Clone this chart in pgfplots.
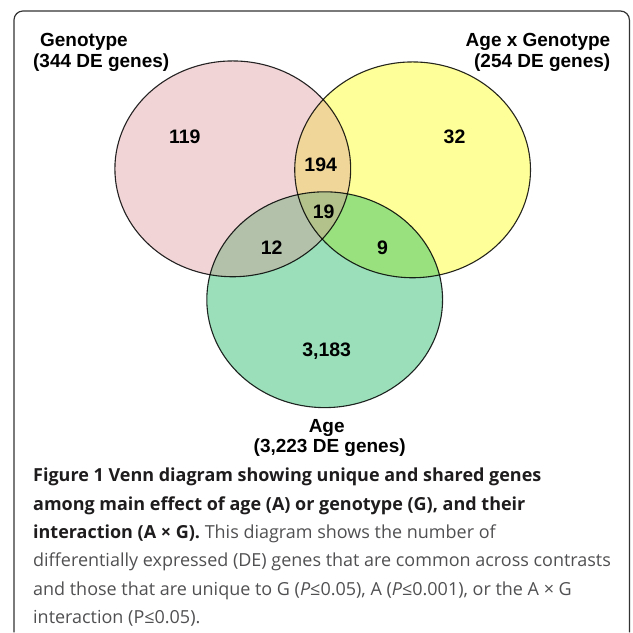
\documentclass[border=0pt]{standalone}
\usepackage{pgfplots}
\pgfplotsset{compat=1.18}
\usepackage{fontspec}
\setmainfont{Liberation Sans}
\newfontfamily\capfont{Open Sans}
\definecolor{cPink}{RGB}{240,212,214}
\definecolor{cYellow}{RGB}{255,255,153}
\definecolor{cGreen}{RGB}{154,223,186}
\definecolor{cPY}{RGB}{240,214,152}
\definecolor{cPG}{RGB}{179,193,171}
\definecolor{cYG}{RGB}{153,224,127}
\definecolor{cPYG}{RGB}{179,193,138}
\definecolor{capdark}{RGB}{30,28,28}
\definecolor{capgray}{RGB}{80,80,82}
\newcommand{\lblfont}{\fontsize{19}{21}\selectfont\bfseries}
\newcommand{\numfont}{\fontsize{19.5}{21}\selectfont\bfseries}
\newcommand{\capsz}{\capfont\fontsize{18}{21}\selectfont}
\begin{document}
\begin{tikzpicture}
\begin{axis}[scale only axis, width=633pt, height=633pt,
  xmin=0, xmax=633, ymin=0, ymax=633, y dir=reverse,
  hide axis, clip=false]
\path (axis cs:0,0) rectangle (axis cs:633,633);
% frame
\draw[rounded corners=9pt, line width=1.2pt, color=black!80] (axis cs:14,633) -- (axis cs:14,11) -- (axis cs:630,11) -- (axis cs:630,633);
% base fills
\fill[cPink] (axis cs:233,169) ellipse [x radius=118, y radius=108];
\fill[cYellow] (axis cs:413,170) ellipse [x radius=118, y radius=108];
\fill[cGreen] (axis cs:325,300) ellipse [x radius=118, y radius=108];
% pairwise overlaps
\begin{scope}
  \clip (axis cs:233,169) ellipse [x radius=118, y radius=108];
  \fill[cPY] (axis cs:413,170) ellipse [x radius=118, y radius=108];
  \fill[cPG] (axis cs:325,300) ellipse [x radius=118, y radius=108];
\end{scope}
\begin{scope}
  \clip (axis cs:413,170) ellipse [x radius=118, y radius=108];
  \fill[cYG] (axis cs:325,300) ellipse [x radius=118, y radius=108];
\end{scope}
\begin{scope}
  \clip (axis cs:233,169) ellipse [x radius=118, y radius=108];
  \clip (axis cs:413,170) ellipse [x radius=118, y radius=108];
  \fill[cPYG] (axis cs:325,300) ellipse [x radius=118, y radius=108];
\end{scope}
% outlines
\draw[line width=1.1pt, black, opacity=0.85] (axis cs:233,169) ellipse [x radius=118, y radius=108];
\draw[line width=1.1pt, black, opacity=0.85] (axis cs:413,170) ellipse [x radius=118, y radius=108];
\draw[line width=1.1pt, black, opacity=0.85] (axis cs:325,300) ellipse [x radius=118, y radius=108];
% region counts
\addplot[only marks, mark=none, nodes near coords, point meta=explicit symbolic,
  every node near coord/.style={anchor=center, inner sep=0pt, font=\numfont, text=black}]
  table[meta=label] {
x y label
185 137 119
455 137 32
321 165 194
324 212 19
272 248 12
383 248 9
327 352 3,183
};
% set labels
\node[anchor=base west, inner sep=0pt, font=\lblfont] at (axis cs:40,47) {Genotype};
\node[anchor=base west, inner sep=0pt, font=\lblfont] at (axis cs:33,68) {(344 DE genes)};
\node[anchor=base east, inner sep=0pt, font=\lblfont] at (axis cs:611,47) {Age x Genotype};
\node[anchor=base east, inner sep=0pt, font=\lblfont] at (axis cs:611,68) {(254 DE genes)};
\node[anchor=base, inner sep=0pt, font=\lblfont] at (axis cs:327,433) {Age};
\node[anchor=base, inner sep=0pt, font=\lblfont] at (axis cs:330,453) {(3,223 DE genes)};
% caption
\node[anchor=base west, inner sep=0pt, font=\capsz\bfseries, text=capdark] at (axis cs:33,482) {Figure 1 Venn diagram showing unique and shared genes};
\node[anchor=base west, inner sep=0pt, font=\capsz\bfseries, text=capdark] at (axis cs:33,511) {among main effect of age (A) or genotype (G), and their};
\node[anchor=base west, inner sep=0pt, font=\capsz, text=capgray] at (axis cs:33,539) {{\bfseries\color{capdark}interaction (A × G).} This diagram shows the number of};
\node[anchor=base west, inner sep=0pt, font=\capsz, text=capgray] at (axis cs:33,567) {differentially expressed (DE) genes that are common across contrasts};
\node[anchor=base west, inner sep=0pt, font=\capsz, text=capgray] at (axis cs:33,596) {and those that are unique to G (\textit{P}≤0.05), A (\textit{P}≤0.001), or the A × G};
\node[anchor=base west, inner sep=0pt, font=\capsz, text=capgray] at (axis cs:33,624) {interaction (P≤0.05).};
\end{axis}
\end{tikzpicture}
\end{document}
